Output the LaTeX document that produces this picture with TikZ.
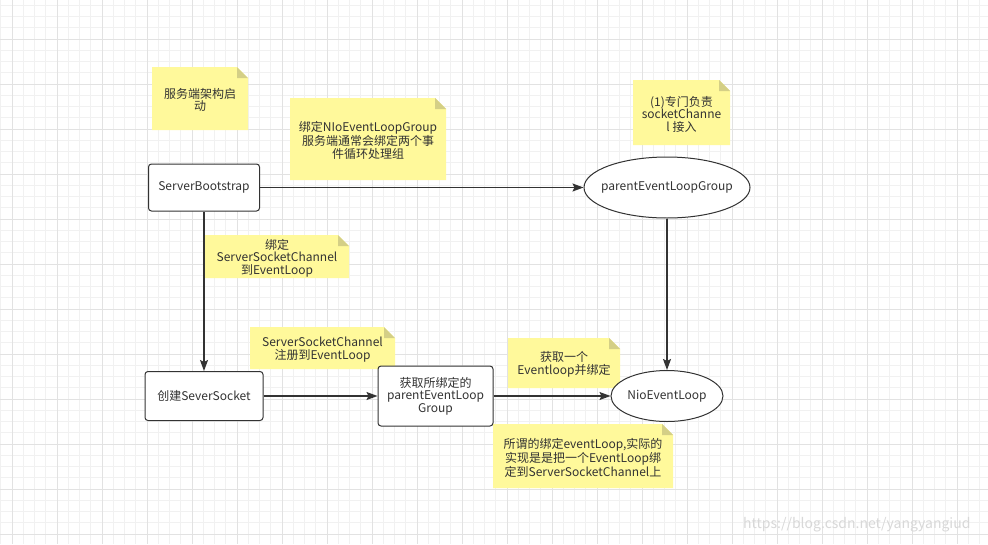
\documentclass[tikz,border=0pt]{standalone}
\usepackage{fontspec}
\setmainfont{Noto Sans CJK SC}
\usetikzlibrary{arrows.meta,shapes.geometric}
\definecolor{noteyellow}{HTML}{FFF99B}
\definecolor{notefold}{HTML}{D4CF86}
\definecolor{ink}{HTML}{333333}
\definecolor{gridminor}{HTML}{F1F1F1}
\definecolor{gridmajor}{HTML}{E2E2E2}
\definecolor{wmark}{HTML}{D8D8D8}
\tikzset{
  basefont/.style={font=\fontsize{12}{12.5}\selectfont, text=ink},
  notetext/.style={basefont, align=center, inner sep=0pt},
  procbox/.style={basefont, draw=ink, line width=1pt, fill=white, rounded corners=3pt, align=center, inner sep=2pt},
  oval/.style={basefont, ellipse, draw=ink, line width=1pt, fill=white, inner sep=0pt},
  flow/.style={draw=ink, line width=1.2pt, -{Stealth[length=11pt,width=8pt,inset=2pt]}},
}
\newcommand\stickynote[6]{%
  \fill[noteyellow] (#2,#3) -- ({#4-11},#3) -- (#4,{#3+11}) -- (#4,#5) -- (#2,#5) -- cycle;
  \fill[notefold] ({#4-11},#3) -- (#4,{#3+11}) -- ({#4-11},{#3+11}) -- cycle;
  \node[notetext] (#1) at ({(#2+#4)/2},{(#3+#5)/2+1.5}) {#6};
}
\begin{document}
\begin{tikzpicture}[x=1pt,y=-1pt]
\useasboundingbox (0,0) rectangle (988,544);
\fill[white] (0,0) rectangle (988,544);
% grid
\foreach \i in {0,...,87} { \draw[gridminor, line width=0.7pt] ({0.75+11.25*\i},0) -- ({0.75+11.25*\i},544); }
\foreach \i in {0,...,48} { \draw[gridminor, line width=0.7pt] (0,{5.25+11.25*\i}) -- (988,{5.25+11.25*\i}); }
\foreach \i in {0,...,21} { \draw[gridmajor, line width=0.8pt] ({12+45*\i},0) -- ({12+45*\i},544); }
\foreach \i in {0,...,11} { \draw[gridmajor, line width=0.8pt] (0,{39+45*\i}) -- (988,{39+45*\i}); }
% notes
\stickynote{n1}{152}{67}{248}{130}{服务端架构启\\动}
\stickynote{n2}{290}{98}{446}{180}{绑定NIoEventLoopGroup\\服务端通常会绑定两个事\\件循环处理组}
\stickynote{n3}{633}{80}{730}{145}{(1)专门负责\\socketChanne\\l 接入}
\stickynote{n4}{205}{235}{349}{278}{绑定\\ServerSocketChannel\\到EventLoop}
\stickynote{n5}{250}{327}{395}{369}{ServerSocketChannel\\注册到EventLoop}
\stickynote{n6}{508}{338}{620}{388}{获取一个\\Eventloop并绑定}
\stickynote{n7}{493}{424}{673}{488}{所谓的绑定eventLoop,实际的\\实现是是把一个EventLoop绑\\定到ServerSocketChannel上}
% nodes
\node[procbox, minimum width=111pt, minimum height=47pt] (sb) at (204,187.5) {ServerBootstrap};
\node[oval, minimum width=166pt, minimum height=61pt] (pelg) at (667,187.5) {\makebox[0pt]{parentEventLoopGroup}};
\node[procbox, minimum width=118pt, minimum height=49pt] (cs) at (204,396) {创建SeverSocket};
\node[procbox, minimum width=115pt, minimum height=60pt] (gb) at (435.5,396) {获取所绑定的\\parentEventLoop\\Group};
\node[oval, minimum width=112pt, minimum height=51pt] (nel) at (667,396) {\makebox[0pt]{NioEventLoop}};
% connectors
\draw[flow] (sb) -- (pelg);
\draw[flow] (sb) -- (cs);
\draw[flow] (cs) -- (gb);
\draw[flow] (gb) -- (nel);
\draw[flow] (pelg) -- (nel);
% watermark
\node[anchor=west, inner sep=0pt, text=wmark, font=\fontsize{14}{14}\selectfont] (wm) at (743,525) {https://blog.csdn.net/yangyangiud};
\end{tikzpicture}
\end{document}
